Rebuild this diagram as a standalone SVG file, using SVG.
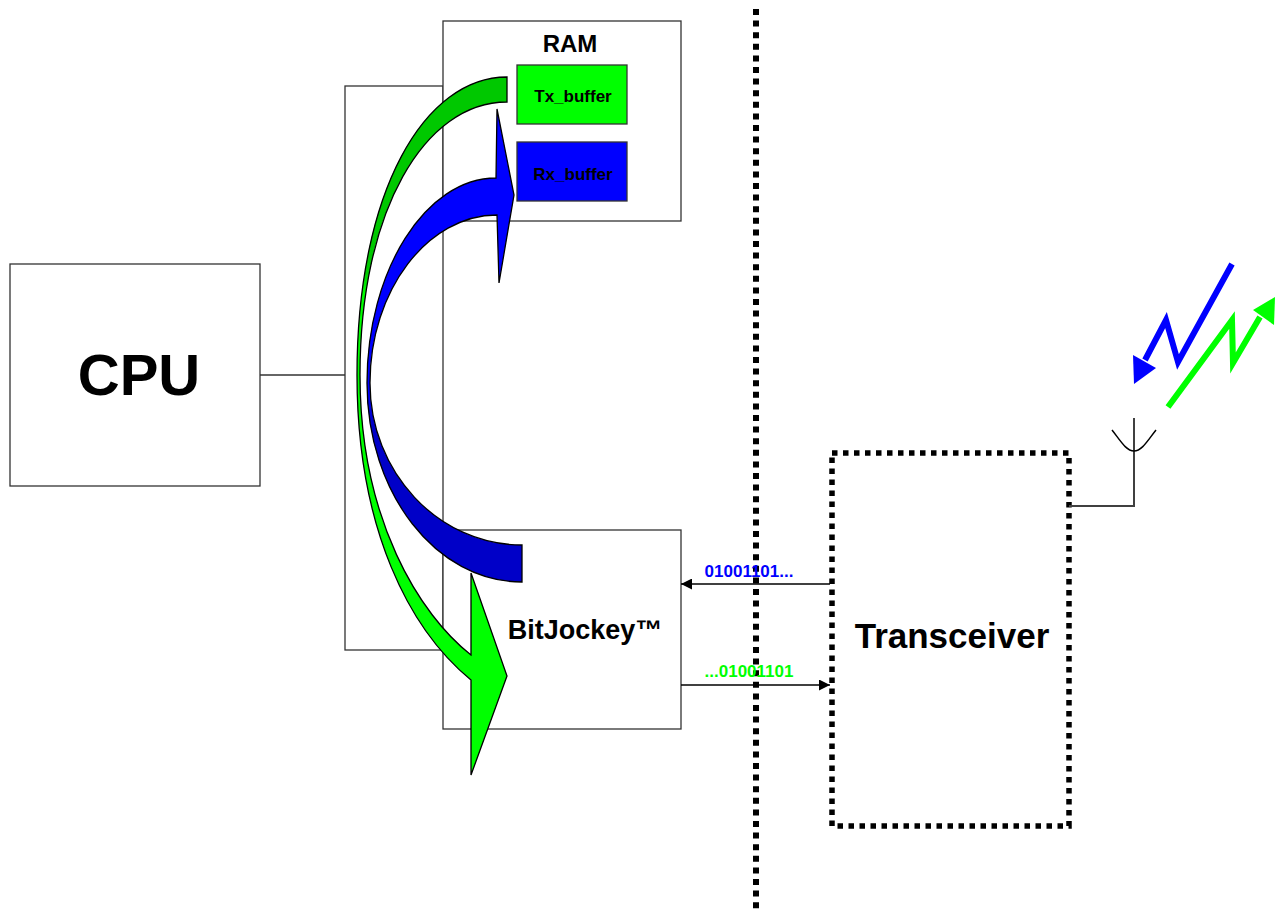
<svg xmlns="http://www.w3.org/2000/svg" width="1281" height="913" viewBox="0 0 1281 913">
<style>
.box{fill:#fff;stroke:#333;stroke-width:1.3}
.ln{fill:none;stroke:#333;stroke-width:1.3}
.t{font-family:"Liberation Sans",Arial,sans-serif;font-weight:bold;text-anchor:middle}
.dot{fill:none;stroke:#000;stroke-width:5.5;stroke-dasharray:5.5 5.5}
.arw{stroke:#000;stroke-width:1.3;stroke-linejoin:miter}
</style>
<defs>
<linearGradient id="gG" gradientUnits="userSpaceOnUse" x1="0" y1="77" x2="0" y2="775">
<stop offset="0" stop-color="#00c800"/><stop offset="0.28" stop-color="#00c800"/><stop offset="0.31" stop-color="#00ff00"/><stop offset="1" stop-color="#00ff00"/>
</linearGradient>
<linearGradient id="gB" gradientUnits="userSpaceOnUse" x1="0" y1="109" x2="0" y2="582">
<stop offset="0" stop-color="#0000ff"/><stop offset="0.6" stop-color="#0000ff"/><stop offset="0.66" stop-color="#0000c8"/><stop offset="1" stop-color="#0000c8"/>
</linearGradient>
<marker id="ah" viewBox="0 0 10 10" refX="10" refY="5" markerWidth="13" markerHeight="11" markerUnits="userSpaceOnUse" orient="auto">
<path d="M0,0 L10,5 L0,10 Z" fill="#000"/>
</marker>
</defs>

<g id="bus">
<rect class="ln" x="345" y="86" width="98" height="564"/>
</g>

<g id="cpu">
<rect class="box" x="10" y="264" width="250" height="222"/>
<text class="t" x="139" y="395" font-size="58">CPU</text>
</g>

<g id="ram">
<rect class="box" x="443" y="21" width="238" height="200"/>
<text class="t" x="570" y="52" font-size="24">RAM</text>
</g>

<g id="tx_buffer">
<rect x="517" y="65" width="110" height="59" fill="#00ff00" stroke="#333" stroke-width="1.3"/>
<text class="t" x="573" y="102" font-size="17">Tx_buffer</text>
</g>

<g id="rx_buffer">
<rect x="517" y="142" width="110" height="59" fill="#0000ff" stroke="#333" stroke-width="1.3"/>
<text class="t" x="573" y="180" font-size="17">Rx_buffer</text>
</g>

<g id="bitjockey">
<rect class="box" x="443" y="530" width="238" height="199"/>
<text class="t" x="585" y="639" font-size="27">BitJockey™</text>
</g>

<g id="transceiver">
<rect class="dot" x="832" y="453" width="237" height="373" fill="none"/>
<text class="t" x="952" y="648" font-size="35">Transceiver</text>
</g>

<g id="divider">
<line x1="756" y1="9" x2="756" y2="913" stroke="#000" stroke-width="6" stroke-dasharray="6 5.6"/>
</g>

<g id="antenna">
<line x1="1134" y1="418" x2="1134" y2="507" stroke="#000" stroke-width="1.5"/>
<path d="M1112,430 C1120,440 1126,451 1134,451 C1142,451 1148,440 1156,430" fill="none" stroke="#000" stroke-width="1.5"/>
</g>

<g id="connectors">
<line class="ln" x1="260" y1="375" x2="345" y2="375" stroke="#000"/>
<line x1="1069" y1="506" x2="1134" y2="506" stroke="#404040" stroke-width="2"/>
<line x1="830" y1="584" x2="681" y2="584" stroke="#000" stroke-width="1.3" marker-end="url(#ah)"/>
<line x1="681" y1="685" x2="830" y2="685" stroke="#000" stroke-width="1.3" marker-end="url(#ah)"/>
<text class="t" x="749" y="577" font-size="17" fill="#0000ff">01001101...</text>
<text class="t" x="749" y="677" font-size="17" fill="#00ff00">...01001101</text>
<path class="arw" fill="url(#gG)" d="M507,77 C425,77 357,190 357,375 C357,530 410,630 471,680 L471,775 L507,676 L471,573 L471,655 C420,615 360,520 360,375 C360,210 425,102 507,102 Z"/>
<path class="arw" fill="url(#gB)" d="M496,178 C426,178 367,270 367,383 C367,493 436,582 522,582 L522,545 C438,545 370,472 370,383 C370,290 428,215 497,215 L499,283 L514,195 L497,109 Z"/>
<polyline points="1232,264 1178,362 1166,320 1145,360" fill="none" stroke="#0000ff" stroke-width="6"/>
<polygon points="1133,355 1156,368 1134,384" fill="#0000ff"/>
<polyline points="1168,407 1232,320 1233,363 1260,317" fill="none" stroke="#00ff00" stroke-width="6"/>
<polygon points="1253,310 1274,325 1275,297" fill="#00ff00"/>
</g>
</svg>
